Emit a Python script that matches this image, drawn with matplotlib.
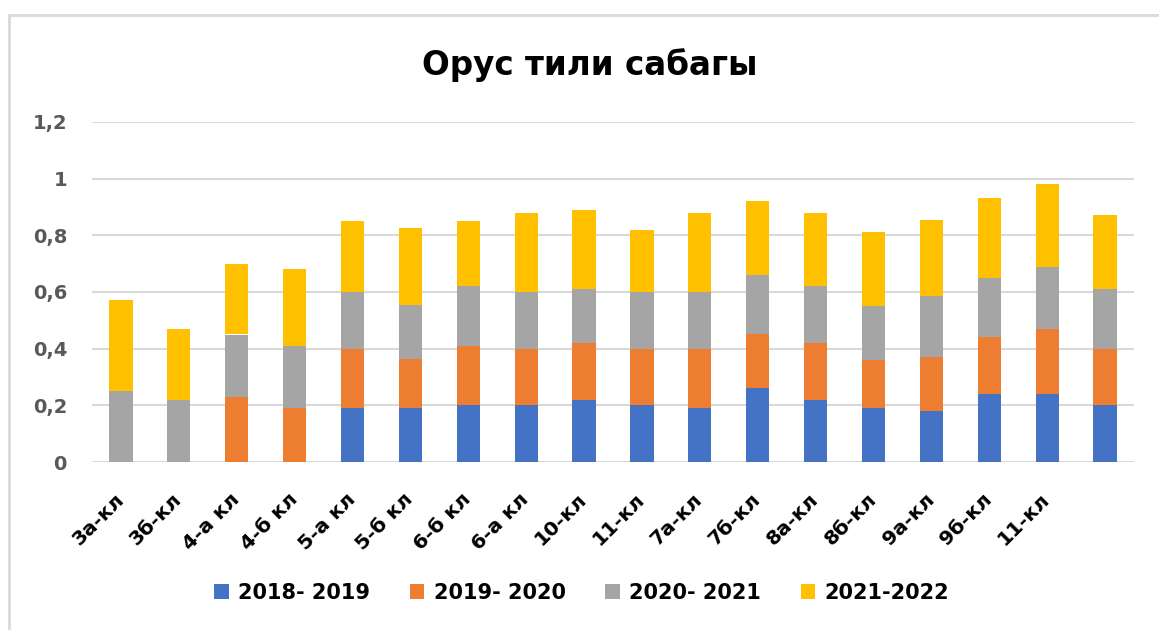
import matplotlib
matplotlib.use("Agg")
import matplotlib.pyplot as plt
from matplotlib.lines import Line2D
import numpy as np

title = "Орус тили сабагы"
categories = ["3а-кл", "3б-кл", "4-а кл", "4-б кл", "5-а кл", "5-б кл", "6-б кл",
              "6-а кл", "10-кл", "11-кл", "7а-кл", "7б-кл", "8а-кл", "8б-кл",
              "9а-кл", "9б-кл", "11-кл", ""]
series_names = ["2018- 2019", "2019- 2020", "2020- 2021", "2021-2022"]
s2018 = [0, 0, 0, 0, 0.19, 0.19, 0.20, 0.20, 0.22, 0.20, 0.19, 0.26, 0.22, 0.19, 0.18, 0.24, 0.24, 0.20]
s2019 = [0, 0, 0.23, 0.19, 0.21, 0.175, 0.21, 0.20, 0.20, 0.20, 0.21, 0.19, 0.20, 0.17, 0.19, 0.20, 0.23, 0.20]
s2020 = [0.25, 0.22, 0.22, 0.22, 0.20, 0.19, 0.21, 0.20, 0.19, 0.20, 0.20, 0.21, 0.20, 0.19, 0.215, 0.21, 0.22, 0.21]
s2021 = [0.32, 0.25, 0.25, 0.27, 0.25, 0.27, 0.23, 0.28, 0.28, 0.22, 0.28, 0.26, 0.26, 0.26, 0.27, 0.28, 0.29, 0.26]
yticks = [0, 0.2, 0.4, 0.6, 0.8, 1.0, 1.2]
ytick_labels = ["0", "0,2", "0,4", "0,6", "0,8", "1", "1,2"]
colors = ["#4472C4", "#ED7D31", "#A5A5A5", "#FFC000"]

plt.rcParams['font.family'] = ['DejaVu Sans']

fig = plt.figure(figsize=(11.59, 6.3), dpi=100)
ax = fig.add_axes([92/1159, 1-462/630, (1134-92)/1159, (462-122)/630])

x = np.arange(len(categories))
bottom = np.zeros(len(categories))
for name, vals, c in zip(series_names, [s2018, s2019, s2020, s2021], colors):
    v = np.array(vals, dtype=float)
    ax.bar(x, v, 0.4, bottom=bottom, color=c, label=name, zorder=3)
    bottom += v

ax.set_xlim(-0.5, len(categories) - 0.5)
ax.set_ylim(0, 1.2)
ax.set_yticks(yticks)
ax.set_yticklabels(ytick_labels, fontsize=14, fontweight='bold', color='#595959')
ax.set_xticks(x)
ax.set_xticklabels(categories, rotation=45, ha='right', va='center',
                   rotation_mode='anchor', fontsize=14.5, fontweight='bold', color='black')
ax.tick_params(axis='x', length=0, pad=25)
ax.tick_params(axis='y', length=0, pad=18)
for lab in ax.get_yticklabels():
    lab.set_ha('right')
ax.grid(axis='y', color='#D9D9D9', linewidth=1.5, zorder=0)
for s in ax.spines.values():
    s.set_visible(False)

fig.text(0.509, 1-65/630, title, ha='center', va='center', fontsize=23.5, fontweight='bold')

leg = fig.legend(loc='center', bbox_to_anchor=(0.502, 1-593/630), ncol=4, frameon=False,
                 prop={'size': 15, 'weight': 'bold'}, handlelength=0.7, handleheight=0.7,
                 handletextpad=0.45, columnspacing=1.9)

fig.add_artist(Line2D([9/1159, 1], [1-15/630, 1-15/630], transform=fig.transFigure,
                      color='#D9D9D9', linewidth=2))
fig.add_artist(Line2D([9/1159, 9/1159], [0, 1-15/630], transform=fig.transFigure,
                      color='#D9D9D9', linewidth=2))

fig.savefig("out.png", dpi=100, facecolor='white')
